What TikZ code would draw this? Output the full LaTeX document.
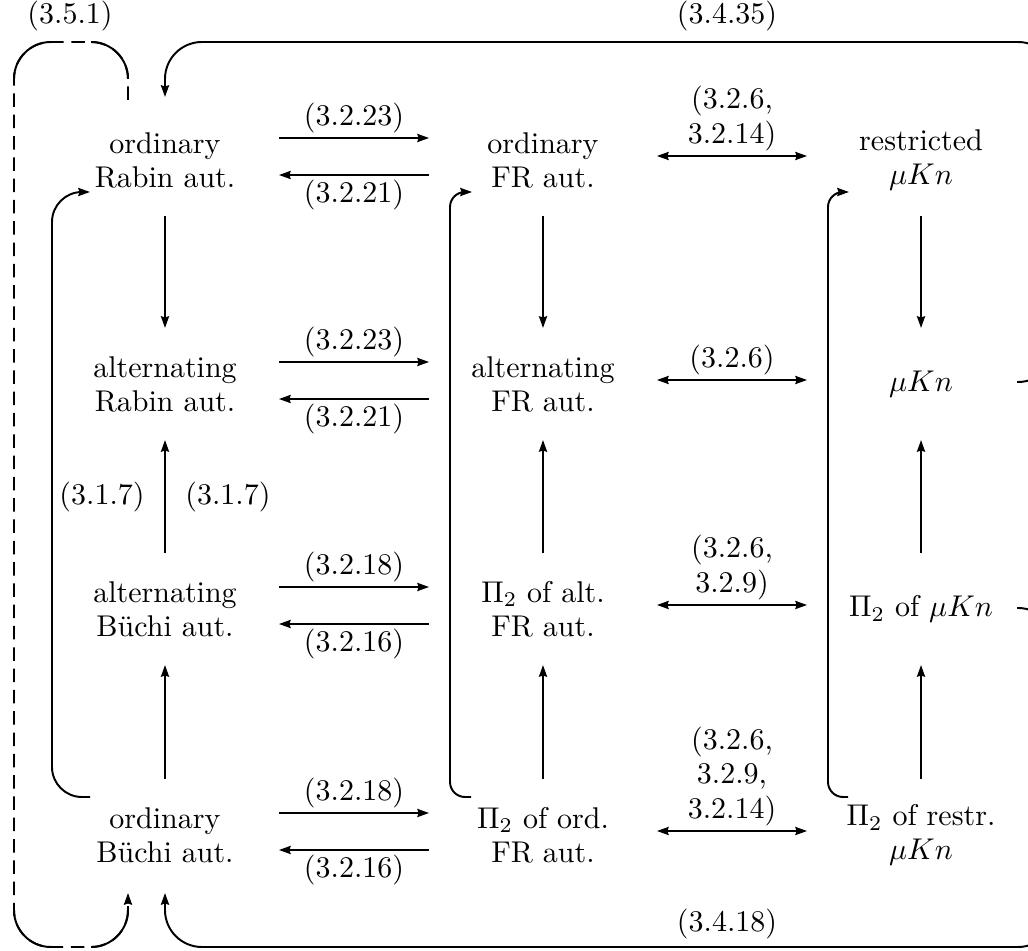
\documentclass[tikz,border=0pt]{standalone}
\usetikzlibrary{arrows.meta,calc}
\begin{document}
\begin{tikzpicture}[x=0.3333pt,y=-0.3333pt,line width=0.65pt,
  >={Stealth[length=3.9pt,width=2.7pt,inset=0.4pt]},
  obj/.style={minimum width=75.3pt,minimum height=36.7pt,inner sep=0pt,align=center,font=\fontsize{10}{11.3}\selectfont},
  lab/.style={inner sep=1.5pt,align=center,font=\fontsize{10}{11.5}\selectfont},
  sidelab/.style={inner sep=6.5pt},
  loopone/.style={->,rounded corners=10pt},
  looptwo/.style={->,rounded corners=5pt},
  bigloop/.style={->,rounded corners=12.3pt},
  dashloop/.style={dash pattern=on 4.5pt off 2.6pt,rounded corners=12.3pt},
  arcpiece/.style={rounded corners=12.3pt}]
\useasboundingbox (0,0) rectangle (1028,951);
\clip (0,0) rectangle (1028,951);

% objects
\node[obj] (r1c1) at (165,160) {ordinary\\Rabin aut.};
\node[obj] (r1c2) at (543,160) {ordinary\\FR aut.};
\node[obj] (r1c3) at (921,160) {restricted\\$\mu Kn$};
\node[obj] (r2c1) at (165,384) {alternating\\Rabin aut.};
\node[obj] (r2c2) at (543,384) {alternating\\FR aut.};
\node[obj] (r2c3) at (921,384) {$\mu Kn$};
\node[obj] (r3c1) at (165,609) {alternating\\B\"uchi aut.};
\node[obj] (r3c2) at (543,609) {$\Pi_2$ of alt.\\FR aut.};
\node[obj] (r3c3) at (921,609) {$\Pi_2$ of $\mu Kn$};
\node[obj] (r4c1) at (165,835) {ordinary\\B\"uchi aut.};
\node[obj] (r4c2) at (543,835) {$\Pi_2$ of ord.\\FR aut.};
\node[obj] (r4c3) at (921,835) {$\Pi_2$ of restr.\\$\mu Kn$};

% horizontal arrows, row 1
\draw[->] ($(r1c1.east)+(0,-22)$) -- node[lab,above]{(3.2.23)} ($(r1c2.west)+(0,-22)$);
\draw[<-] ($(r1c1.east)+(0,15)$) -- node[lab,below]{(3.2.21)} ($(r1c2.west)+(0,15)$);
\draw[<->] ($(r1c2.east)+(0,-4)$) -- node[lab,above]{(3.2.6,\\3.2.14)} ($(r1c3.west)+(0,-4)$);
% row 2
\draw[->] ($(r2c1.east)+(0,-22)$) -- node[lab,above]{(3.2.23)} ($(r2c2.west)+(0,-22)$);
\draw[<-] ($(r2c1.east)+(0,15)$) -- node[lab,below]{(3.2.21)} ($(r2c2.west)+(0,15)$);
\draw[<->] ($(r2c2.east)+(0,-4)$) -- node[lab,above]{(3.2.6)} ($(r2c3.west)+(0,-4)$);
% row 3
\draw[->] ($(r3c1.east)+(0,-22)$) -- node[lab,above]{(3.2.18)} ($(r3c2.west)+(0,-22)$);
\draw[<-] ($(r3c1.east)+(0,15)$) -- node[lab,below]{(3.2.16)} ($(r3c2.west)+(0,15)$);
\draw[<->] ($(r3c2.east)+(0,-4)$) -- node[lab,above]{(3.2.6,\\3.2.9)} ($(r3c3.west)+(0,-4)$);
% row 4
\draw[->] ($(r4c1.east)+(0,-22)$) -- node[lab,above]{(3.2.18)} ($(r4c2.west)+(0,-22)$);
\draw[<-] ($(r4c1.east)+(0,15)$) -- node[lab,below]{(3.2.16)} ($(r4c2.west)+(0,15)$);
\draw[<->] ($(r4c2.east)+(0,-4)$) -- node[lab,above]{(3.2.6,\\3.2.9,\\3.2.14)} ($(r4c3.west)+(0,-4)$);

% vertical arrows
\draw[->] (r1c1.south) -- (r2c1.north);
\draw[->] (r3c1.north) -- node[sidelab,left]{(3.1.7)} node[sidelab,right]{(3.1.7)} (r2c1.south);
\draw[->] (r4c1.north) -- (r3c1.south);
\draw[->] (r1c2.south) -- (r2c2.north);
\draw[->] (r3c2.north) -- (r2c2.south);
\draw[->] (r4c2.north) -- (r3c2.south);
\draw[->] (r1c3.south) -- (r2c3.north);
\draw[->] (r3c3.north) -- (r2c3.south);
\draw[->] (r4c3.north) -- (r3c3.south);

% side loops
\draw[loopone] ($(r4c1)+(-75,-38)$) -| ($(r1c1)+(-113,32)$) -- ($(r1c1)+(-75,32)$);
\draw[looptwo] ($(r4c2)+(-72,-38)$) -| ($(r1c2)+(-93,32)$) -- ($(r1c2)+(-71,32)$);
\draw[looptwo] ($(r4c3)+(-73,-38)$) -| ($(r1c3)+(-93,32)$) -- ($(r1c3)+(-72,32)$);

% big outer loops
\coordinate (ne) at (1055,42);
\coordinate (se) at (1055,947);
\draw[bigloop] ($(r2c3)+(96,-2)$) -| (ne) -| ($(r1c1)+(0,-63)$);
\node[lab] (l3435) at (727,16) {(3.4.35)};
\draw[bigloop] ($(r3c3)+(96,-1)$) -| (se) -| ($(r4c1)+(0,58)$);
\node[lab] (l3418) at (727,924) {(3.4.18)};

% dashed loop
\coordinate (dtl) at (14,42);
\coordinate (dbl) at (14,947);
\draw[dashloop,->] ($(r1c1)+(-37,-60)$) |- (dtl) -- (dbl) -| ($(r4c1)+(-37,58)$);
\draw[arcpiece] (128,79) |- (91,42);
\draw[arcpiece] (51,42) -| (14,79);
\draw[arcpiece] (14,910) |- (51,947);
\draw[arcpiece] (91,947) -| (128,906);
\node[lab] (l351) at (70,16) {(3.5.1)};
\end{tikzpicture}
\end{document}
